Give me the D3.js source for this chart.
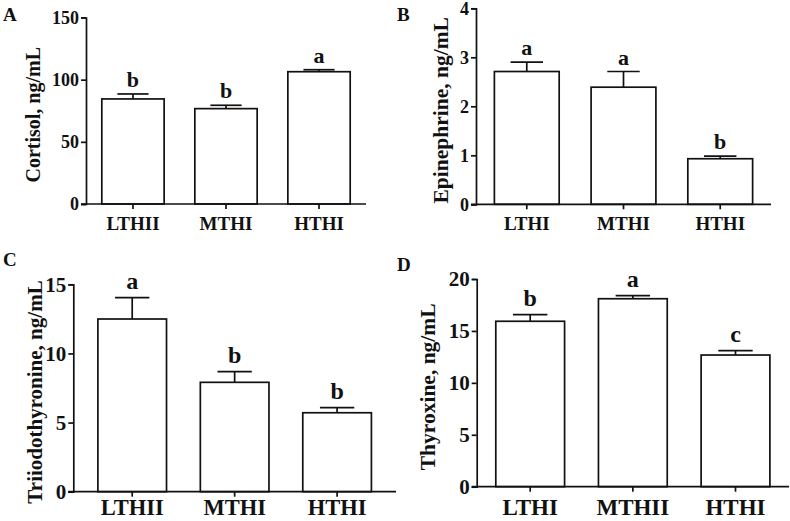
<!DOCTYPE html>
<html>
<head>
<meta charset="utf-8">
<script src="https://cdn.jsdelivr.net/npm/d3@7"></script>
<style>
  body { margin: 0; background: #fff; }
  svg { display: block; }
  text { font-family: "Liberation Serif", "Times New Roman", serif; font-weight: bold; fill: #111; }
</style>
</head>
<body>
<div id="chart"></div>
<script>
// --- data ---
const groupsA = ['LTHII', 'MTHI', 'HTHI'];
const cortisolMean = [84.5, 76.7, 106.4];
const cortisolSem = [4.0, 2.7, 1.6];
const cortisolSig = ['b', 'b', 'a'];
const cortisolTicks = [0, 50, 100, 150];

const groupsB = ['LTHI', 'MTHI', 'HTHI'];
const epiMean = [2.71, 2.39, 0.93];
const epiSem = [0.19, 0.32, 0.055];
const epiSig = ['a', 'a', 'b'];
const epiTicks = [0, 1, 2, 3, 4];

const groupsC = ['LTHII', 'MTHI', 'HTHI'];
const t3Mean = [12.49, 7.91, 5.71];
const t3Sem = [1.54, 0.77, 0.37];
const t3Sig = ['a', 'b', 'b'];
const t3Ticks = [0, 5, 10, 15];

const groupsD = ['LTHI', 'MTHII', 'HTHI'];
const t4Mean = [15.93, 18.10, 12.68];
const t4Sem = [0.64, 0.29, 0.42];
const t4Sig = ['b', 'a', 'c'];
const t4Ticks = [0, 5, 10, 15, 20];

const width = 790, height = 521;

const svg = d3.select('#chart').append('svg')
    .attr('width', width)
    .attr('height', height);

// panel layout (pixel boxes of each plot area)
const panels = [
    { tag: 'A', tagX: 3, tagY: 21, title: 'Cortisol, ng/mL', titleX: 40, titleSize: 20,
      groups: groupsA, mean: cortisolMean, sem: cortisolSem, sig: cortisolSig, ticks: cortisolTicks,
      x0: 86, x1: 366, yTop: 17.5, yBot: 204, outer: 0.17, tickSize: 18, catSize: 19, sigSize: 22, gap: 7, catDy: 26 },
    { tag: 'B', tagX: 397, tagY: 21, title: 'Epinephrine, ng/mL', titleX: 448, titleSize: 21.5,
      groups: groupsB, mean: epiMean, sem: epiSem, sig: epiSig, ticks: epiTicks,
      x0: 476, x1: 771, yTop: 8.3, yBot: 204.3, outer: 0.19, tickSize: 18, catSize: 19, sigSize: 22, gap: 7, catDy: 26 },
    { tag: 'C', tagX: 3, tagY: 266, title: 'Triiodothyronine, ng/mL', titleX: 41.5, titleSize: 21,
      groups: groupsC, mean: t3Mean, sem: t3Sem, sig: t3Sig, ticks: t3Ticks,
      x0: 73.3, x1: 396, yTop: 284.3, yBot: 491.7, outer: 0.24, tickSize: 21, catSize: 22.5, sigSize: 24, gap: 9, catDy: 23 },
    { tag: 'D', tagX: 397, tagY: 271, title: 'Thyroxine, ng/mL', titleX: 435, titleSize: 21.5,
      groups: groupsD, mean: t4Mean, sem: t4Sem, sig: t4Sig, ticks: t4Ticks,
      x0: 476.7, x1: 789, yTop: 279, yBot: 486.7, outer: 0.186, tickSize: 21, catSize: 23, sigSize: 24, gap: 9, catDy: 28 }
];

panels.forEach(p => {
    const g = svg.append('g');

    const x = d3.scaleBand()
        .domain(p.groups)
        .range([p.x0, p.x1])
        .paddingInner(0.33)
        .paddingOuter(p.outer);

    const y = d3.scaleLinear()
        .domain([0, d3.max(p.ticks)])
        .range([p.yBot, p.yTop]);

    const rows = p.groups.map((k, i) => ({ key: k, mean: p.mean[i], sem: p.sem[i], sig: p.sig[i] }));

    // error bars (upper only), drawn under the bars
    g.selectAll('.err')
        .data(rows)
        .enter()
        .append('line')
        .attr('x1', d => x(d.key) + x.bandwidth() / 2)
        .attr('x2', d => x(d.key) + x.bandwidth() / 2)
        .attr('y1', d => y(d.mean))
        .attr('y2', d => y(d.mean + d.sem))
        .attr('stroke', '#111')
        .attr('stroke-width', 1.7);

    g.selectAll('.cap')
        .data(rows)
        .enter()
        .append('line')
        .attr('x1', d => x(d.key) + x.bandwidth() / 4)
        .attr('x2', d => x(d.key) + x.bandwidth() * 3 / 4)
        .attr('y1', d => y(d.mean + d.sem))
        .attr('y2', d => y(d.mean + d.sem))
        .attr('stroke', '#111')
        .attr('stroke-width', 1.7);

    // bars
    g.selectAll('rect')
        .data(rows)
        .enter()
        .append('rect')
        .attr('x', d => x(d.key))
        .attr('y', d => y(d.mean))
        .attr('width', x.bandwidth())
        .attr('height', d => y(0) - y(d.mean))
        .attr('fill', '#fff')
        .attr('stroke', '#111')
        .attr('stroke-width', 1.7);

    // significance letters
    g.selectAll('.sig')
        .data(rows)
        .enter()
        .append('text')
        .attr('x', d => x(d.key) + x.bandwidth() / 2)
        .attr('y', d => y(d.mean + d.sem) - p.gap)
        .attr('text-anchor', 'middle')
        .style('font-size', p.sigSize + 'px')
        .text(d => d.sig);

    // y axis
    const yAxis = d3.axisLeft(y)
        .tickValues(p.ticks)
        .tickFormat(d3.format('d'))
        .tickSizeOuter(0)
        .tickSize(5)
        .tickPadding(2);
    const ya = g.append('g')
        .attr('transform', `translate(${p.x0},0)`)
        .call(yAxis);
    ya.select('.domain').attr('stroke', '#111').attr('stroke-width', 1.7);
    ya.selectAll('.tick line').attr('stroke', '#111').attr('stroke-width', 1.7);
    ya.selectAll('.tick text')
        .style('font-size', p.tickSize + 'px')
        .attr('fill', '#111');

    // x axis
    const xAxis = d3.axisBottom(x)
        .tickSizeOuter(0)
        .tickSize(5)
        .tickPadding(0);
    const xa = g.append('g')
        .attr('transform', `translate(0,${p.yBot})`)
        .call(xAxis);
    xa.select('.domain')
        .attr('d', `M${p.x0 - 5},0H${p.x1}`)
        .attr('stroke', '#111').attr('stroke-width', 1.7);
    xa.selectAll('.tick line').attr('stroke', '#111').attr('stroke-width', 1.7);
    xa.selectAll('.tick text')
        .attr('dy', null)
        .attr('y', p.catDy)
        .style('font-size', p.catSize + 'px')
        .attr('fill', '#111');

    // y title
    g.append('text')
        .attr('transform', `translate(${p.titleX},${(p.yTop + p.yBot) / 2 + 4}) rotate(-90)`)
        .attr('text-anchor', 'middle')
        .style('font-size', p.titleSize + 'px')
        .text(p.title);

    // panel tag
    g.append('text')
        .attr('x', p.tagX)
        .attr('y', p.tagY)
        .style('font-size', '19px')
        .text(p.tag);
});
</script>
</body>
</html>
